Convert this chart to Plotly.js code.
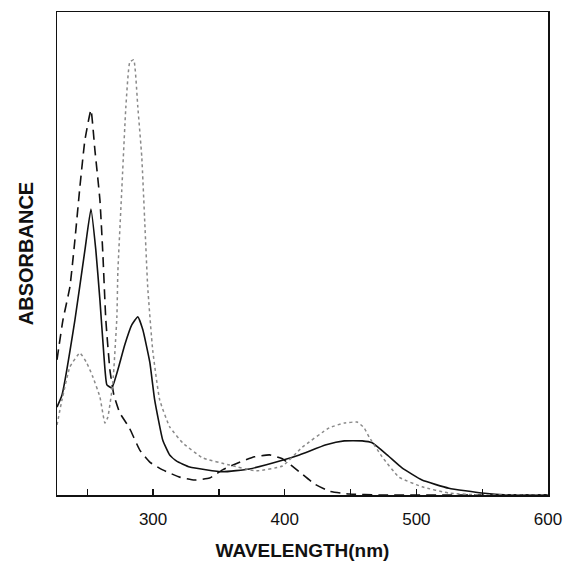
<!DOCTYPE html>
<html>
<head>
<meta charset="utf-8">
<script src="https://cdn.plot.ly/plotly-3.0.1.min.js"></script>
<style>html,body{margin:0;padding:0;background:#fff;}#chart{width:565px;height:563px;}</style>
</head>
<body>
<div id="chart"></div>
<script>
// Solid spectrum
var solidX = [227, 230.8, 240.6, 248.2, 252.8, 256.5, 259.6, 262.6, 264.9, 268.7, 273.2, 278.5, 283.8, 288.4, 292.2, 297.5, 301.2, 307.3, 312.6, 317.9, 327.8, 352.8, 373.2, 398.2, 411.1, 431.5, 445.2, 458.8, 466.4, 477.8, 489.1, 504.3, 524.7, 549.7, 570, 600];
var solidY = [0.182, 0.207, 0.362, 0.507, 0.592, 0.507, 0.404, 0.290, 0.228, 0.222, 0.259, 0.311, 0.352, 0.369, 0.342, 0.275, 0.197, 0.114, 0.083, 0.070, 0.058, 0.048, 0.054, 0.072, 0.083, 0.104, 0.112, 0.112, 0.108, 0.083, 0.056, 0.031, 0.014, 0.004, 0.0, 0.0];

// Dashed spectrum
var dashX = [227, 231.5, 236.8, 240.6, 244.4, 248.2, 252.8, 255.8, 259.6, 261.8, 264.1, 267.2, 270.2, 274.7, 281.6, 289.9, 297.5, 307.3, 320.2, 331.5, 342.9, 352.8, 365.7, 377.0, 388.4, 398.2, 411.1, 422.5, 433.8, 449.0, 471.7, 600];
var dashY = [0.280, 0.362, 0.431, 0.528, 0.638, 0.735, 0.797, 0.714, 0.611, 0.501, 0.362, 0.259, 0.207, 0.170, 0.141, 0.093, 0.068, 0.052, 0.037, 0.031, 0.035, 0.052, 0.068, 0.079, 0.083, 0.075, 0.048, 0.023, 0.008, 0.002, 0.0, 0.0];

// Dotted spectrum
var dotX = [227, 230.8, 236.8, 244.4, 249.7, 254.3, 259.6, 263.4, 265.6, 269.4, 272.5, 273.2, 276.2, 279.3, 282.3, 285.3, 288.4, 291.4, 293.7, 295.9, 299.7, 305.0, 312.6, 322.5, 337.6, 358.1, 378.5, 398.2, 413.4, 433.8, 445.2, 455.0, 460.3, 464.1, 474.0, 486.8, 504.3, 524.7, 549.7, 600];
var dotY = [0.145, 0.197, 0.265, 0.294, 0.273, 0.244, 0.203, 0.149, 0.161, 0.232, 0.369, 0.460, 0.631, 0.803, 0.896, 0.901, 0.803, 0.700, 0.563, 0.431, 0.300, 0.197, 0.141, 0.108, 0.077, 0.062, 0.050, 0.060, 0.099, 0.139, 0.149, 0.151, 0.139, 0.120, 0.079, 0.037, 0.017, 0.004, 0.0, 0.0];

var tickVals = [250, 300, 350, 400, 450, 500, 550, 600];
var tickText = ['', '300', '', '400', '', '500', '', '600'];

var font = 'Liberation Sans, Arial, sans-serif';

var traces = [
  {x: solidX, y: solidY, mode: 'lines', line: {color: '#111', width: 1.6, shape: 'spline', smoothing: 0.4}},
  {x: dashX, y: dashY, mode: 'lines', line: {color: '#111', width: 1.6, dash: '10px,6px', shape: 'spline', smoothing: 0.4}},
  {x: dotX, y: dotY, mode: 'lines', line: {color: '#8a8a8a', width: 1.5, dash: 'dot', shape: 'spline', smoothing: 0.4}}
];

var layout = {
  width: 565, height: 563,
  margin: {l: 57, r: 17, t: 12, b: 68},
  paper_bgcolor: '#fff', plot_bgcolor: '#fff',
  showlegend: false,
  xaxis: {
    range: [227, 600],
    tickvals: tickVals, ticktext: tickText,
    ticks: 'inside', ticklen: 6, tickcolor: '#111', tickwidth: 1.2,
    ticklabelstandoff: 8,
    showgrid: false, zeroline: false,
    showline: true, linecolor: '#111', linewidth: 1.5, mirror: true,
    tickfont: {family: font, size: 17, color: '#111'},
    title: {text: 'WAVELENGTH(nm)', font: {family: font, size: 19, color: '#111', weight: 'bold'}, standoff: 16}
  },
  yaxis: {
    range: [0, 1.0],
    showticklabels: false, ticks: '',
    showgrid: false, zeroline: false,
    showline: true, linecolor: '#111', linewidth: 1.5, mirror: true,
    title: {text: 'ABSORBANCE', font: {family: font, size: 20, color: '#111', weight: 'bold'}, standoff: 16}
  }
};

Plotly.newPlot('chart', traces, layout, {displayModeBar: false, staticPlot: true});
</script>
</body>
</html>
